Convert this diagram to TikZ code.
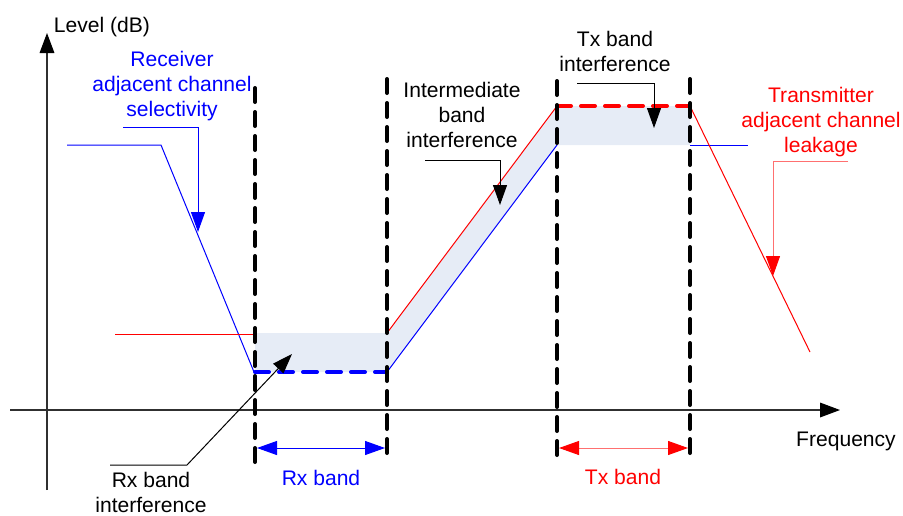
\documentclass[tikz,border=0pt]{standalone}
\usepackage{fontspec}
\setmainfont{Liberation Sans}
\usetikzlibrary{arrows.meta}
\definecolor{shadeblue}{HTML}{E6ECF6}
\definecolor{salmonred}{HTML}{FF7070}
\definecolor{axisgray}{HTML}{303030}
\begin{document}
\begin{tikzpicture}[x=0.75pt,y=-0.75pt,
  lbl/.style={font=\fontsize{15.8}{18.75}\selectfont, align=center, inner sep=0pt, anchor=north},
  fine/.style={line width=0.75pt},
  band/.style={line width=3pt, dash pattern=on 10.5pt off 7.5pt, line cap=round},
  edge/.style={black, line width=3pt, dash pattern=on 10.5pt off 7.5pt, line cap=round},
  tip/.style={-{Triangle[length=15pt,width=10.5pt]}},
  bitip/.style={{Triangle[length=15pt,width=10.5pt]}-{Triangle[length=15pt,width=10.5pt]}},
  axisline/.style={axisgray, line width=0.9pt, -{Triangle[length=15pt,width=11pt,color=black]}}
]
\useasboundingbox (0,0) rectangle (903,515);

% shaded interference area
\fill[shadeblue] (255,333) -- (387,333) -- (557,106) -- (690,106) -- (690,145)
  -- (557,145) -- (387,372) -- (255,372) -- cycle;

% axes
\coordinate (yb) at (47,490);
\coordinate (yt) at (47,33);
\coordinate (xl) at (10,410);
\coordinate (xr) at (840,410);
\draw[axisline] (yb) -- (yt);
\draw[axisline] (xl) -- (xr);

% receiver (blue) curve
\draw[blue, fine] (67,145) -- (161,145) -- (254,372);
\draw[blue, band] (255,372) -- (387,372);
\draw[blue, fine] (387,372) -- (557,145);
\draw[blue, fine] (690,145) -- (748,145);

% transmitter (red) curve
\draw[red, fine] (115,334) -- (255,334);
\draw[red, fine] (387,333) -- (557,106);
\draw[red, band] (557,106) -- (690,106);
\draw[red, fine] (690,106) -- (810,352);

% band edges
\coordinate (e1t) at (255,88);  \coordinate (e1b) at (255,462);
\coordinate (e2t) at (387,79);  \coordinate (e2b) at (387,455);
\coordinate (e3t) at (557,81);  \coordinate (e3b) at (557,462);
\coordinate (e4t) at (690,79);  \coordinate (e4b) at (690,455);
\draw[edge] (e1t) -- (e1b);
\draw[edge] (e2t) -- (e2b);
\draw[edge] (e3t) -- (e3b);
\draw[edge] (e4t) -- (e4b);

% band arrows
\coordinate (rxa) at (257,448); \coordinate (rxb2) at (385,448);
\coordinate (txa) at (559,448); \coordinate (txb2) at (688,448);
\draw[blue, fine, bitip] (rxa) -- (rxb2);
\draw[salmonred, fine, {Triangle[length=15pt,width=10.5pt,color=red]}-{Triangle[length=15pt,width=10.5pt,color=red]}] (txa) -- (txb2);

% labels
\node[lbl] (level) at (102,17) {Level (dB)};
\node[lbl, blue] (rxsel) at (172,51) {Receiver\\adjacent channel\\selectivity};
\node[lbl] (ibi) at (462,82) {Intermediate\\band\\interference};
\node[lbl] (txi) at (615,31) {Tx band\\interference};
\node[lbl, red] (txl) at (821,87) {Transmitter\\adjacent channel\\leakage};
\node[lbl] (rxi) at (151,472) {Rx band\\interference};
\node[lbl, blue] (rxband) at (321,470) {Rx band};
\node[lbl, red] (txband) at (623,469) {Tx band};
\node[lbl] (freq) at (846,432) {Frequency};

% leaders
\coordinate (l1s) at (123,127); \coordinate (l1e) at (198,232);
\draw[blue, fine, tip] (l1s) -| (l1e);
\coordinate (l2s) at (425,160); \coordinate (l2e) at (500,205);
\draw[black, fine, tip] (l2s) -| (l2e);
\coordinate (l3s) at (577,83); \coordinate (l3e) at (654,128);
\draw[black, fine, tip] (l3s) -| (l3e);
\coordinate (l4s) at (848,161); \coordinate (l4e) at (773,276);
\draw[salmonred, fine, -{Triangle[length=15pt,width=10.5pt,color=red]}] (l4s) -| (l4e);
\coordinate (l5s) at (110,465); \coordinate (l5m) at (187,465); \coordinate (l5e) at (292,354);
\draw[black, fine, tip] (l5s) -- (l5m) -- (l5e);
\end{tikzpicture}
\end{document}
